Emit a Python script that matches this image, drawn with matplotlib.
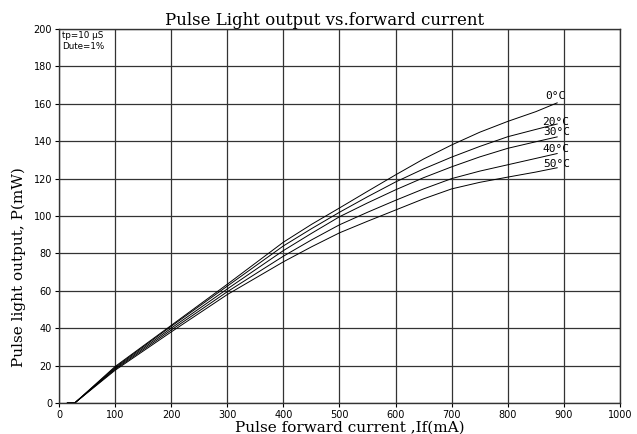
import numpy as np
import matplotlib.pyplot as plt

# Dane: prad [mA] -> moc [mW]
current = [15, 28, 100, 200, 300, 400, 450, 500, 550, 600, 650, 700, 750, 800, 850, 888]
p_0c = [0, 0, 19.5, 41.5, 63.5, 86, 95.5, 104.3, 113.2, 122, 130.5, 138, 144.8, 150.6, 155.8, 160.5]
p_20c = [0, 0, 19, 41, 62.5, 84, 93.2, 102, 110.3, 118.2, 125.2, 131.5, 137.2, 142.4, 146.3, 149.2]
p_30c = [0, 0, 18.5, 40, 61, 81.5, 90.7, 99.6, 107, 114, 120.5, 126.3, 131.6, 136.2, 139.7, 142.3]
p_40c = [0, 0, 18, 39, 59.5, 78.5, 87.2, 95.3, 102, 108.4, 114.5, 120, 124, 127.4, 130.8, 133.4]
p_50c = [0, 0, 17.5, 38, 58, 75.5, 83.5, 91, 97.2, 103.2, 109.2, 114.5, 118, 120.8, 123.5, 125.8]

labels = ['0°C', '20°C', '30°C', '40°C', '50°C']
label_x = [885, 886, 887.5, 886, 887.5]
label_y = [164, 150.5, 145, 135.6, 128]

x_ticks = np.arange(0, 1001, 100)
y_ticks = np.arange(0, 201, 20)

fig = plt.figure(figsize=(6.37, 4.34), dpi=100)
ax = fig.add_axes([0.0926, 0.0714, 0.8807, 0.8618])

for series in [p_0c, p_20c, p_30c, p_40c, p_50c]:
    ax.plot(current, series, color='black', linewidth=0.7)

for txt, lx, ly in zip(labels, label_x, label_y):
    ax.text(lx, ly, txt, ha='center', va='center', fontsize=8,
            family='DejaVu Sans Mono')

ax.text(0.006, 0.995, 'tp=10 μS\nDute=1%', transform=ax.transAxes,
        ha='left', va='top', fontsize=6.3, linespacing=1.25)

ax.set_xlim(0, 1000)
ax.set_ylim(0, 200)
ax.set_xticks(x_ticks)
ax.set_yticks(y_ticks)
ax.tick_params(labelsize=7, length=3, pad=2, width=0.8)
ax.grid(True, color='#333333', linewidth=0.9)
for s in ax.spines.values():
    s.set_linewidth(1.0)
    s.set_color('#333333')

ax.set_title('Pulse Light output vs.forward current', family='DejaVu Serif',
             fontsize=12, x=0.474, pad=3)
ax.set_xlabel('Pulse forward current ,If(mA)', family='DejaVu Serif', fontsize=11)
ax.xaxis.set_label_coords(0.519, -0.046)
ax.set_ylabel('Pulse light output, P(mW)', family='DejaVu Serif', fontsize=11)
ax.yaxis.set_label_coords(-0.059, 0.364)

plt.savefig('out.png', dpi=100)
